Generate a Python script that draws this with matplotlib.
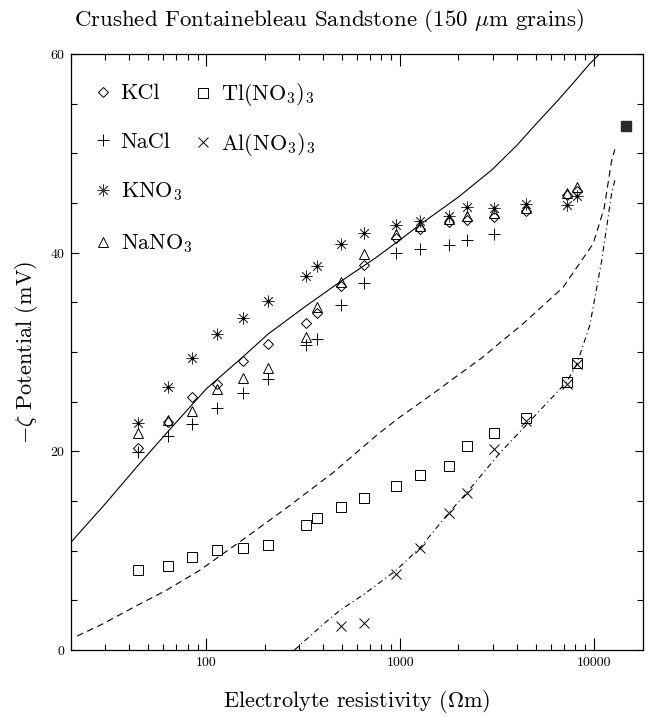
import matplotlib
matplotlib.use('Agg')
import matplotlib.pyplot as plt
import matplotlib.ticker as mticker
from matplotlib.lines import Line2D

plt.rcParams['font.family'] = 'cmr10'
plt.rcParams['mathtext.fontset'] = 'cm'
plt.rcParams['axes.unicode_minus'] = False
plt.rcParams['axes.formatter.use_mathtext'] = True

# measured resistivities (Ohm m), shared by all electrolytes
res = [44.5, 63, 84, 113, 155, 208, 325, 370, 493, 648, 948, 1270,
       1780, 2210, 3040, 4450, 7250, 8170]

kcl = [20.3, 23.0, 25.5, 26.8, 29.1, 30.8, 32.9, 33.9, 36.6, 38.8, 41.5,
       42.4, 43.1, 43.3, 43.6, 44.2, 45.8, 46.2]
nacl = [19.9, 21.5, 22.7, 24.4, 25.9, 27.3, 30.7, 31.3, 34.7, 36.9, 40.0,
        40.4, 40.8, 41.3, 41.9]
kno3 = [22.8, 26.5, 29.4, 31.8, 33.4, 35.1, 37.6, 38.7, 40.9, 42.0, 42.8,
        43.2, 43.7, 44.6, 44.5, 44.9, 44.8, 45.7]
nano3 = [21.8, 23.2, 24.1, 26.3, 27.4, 28.4, 31.5, 34.5, 37.0, 39.9, 41.9,
         42.7, 43.4, 43.7, 44.0, 44.5, 46.0, 46.6]
tl = [8.1, 8.5, 9.4, 10.1, 10.3, 10.6, 12.6, 13.3, 14.4, 15.3, 16.5, 17.6,
      18.5, 20.5, 21.8, 23.4, 27.0, 28.9]
al_res = [493, 648, 948, 1270, 1780, 2210, 3040, 4450, 7250, 8170]
al = [2.4, 2.7, 7.6, 10.3, 13.8, 15.8, 20.2, 23.1, 26.8, 28.8]

# distilled-water point
dw_res = [14600]
dw_val = [52.7]

# theory curves
solid_r = [20, 30, 44, 64, 100, 150, 208, 325, 493, 750, 1000, 1260, 2000,
           3000, 4000, 5000, 6500, 8000, 9500, 10700]
solid_v = [10.85, 14.7, 18.5, 22.1, 26.3, 29.3, 31.8, 34.6, 37.1, 39.5, 41.3,
           42.8, 45.6, 48.4, 50.8, 52.9, 55.3, 57.3, 59.0, 60.0]
dash_r = [21.5, 29, 45, 62, 92, 154, 259, 447, 765, 990, 1500, 2000, 2640,
          3400, 4230, 6930, 9910, 11300, 12330, 12830]
dash_v = [1.4, 2.6, 4.6, 6.0, 8.0, 11.1, 14.3, 17.8, 21.7, 23.4, 25.9, 27.7,
          29.4, 31.2, 32.7, 36.5, 40.9, 44.5, 49.2, 50.4]
dd_r = [285, 407, 490, 650, 950, 1270, 1780, 2200, 3260, 4450, 7250, 8170,
        9530, 10970, 12330, 12900]
dd_v = [0.0, 2.7, 4.0, 5.6, 8.0, 10.3, 13.8, 15.8, 19.8, 22.6, 27.0, 28.8,
        32.7, 39.2, 45.9, 47.5]

fig = plt.figure(figsize=(6.54, 7.17), dpi=100)
ax = fig.add_axes([0.1086, 0.0935, 0.8744, 0.8312])

lw = 0.8
ax.plot(solid_r, solid_v, '-', color='black', lw=lw)
ax.plot(dash_r, dash_v, color='black', lw=lw, dashes=(6, 4))
ax.plot(dd_r, dd_v, color='black', lw=lw, dashes=(5, 3, 1, 3))

mk = dict(linestyle='none', mfc='none', mec='black', mew=0.7)
star = dict(linestyle='none', mfc='none', mec='#333333', mew=0.6)
ax.plot(res, kcl, marker='D', ms=5.2, **mk)
ax.plot(res[:len(nacl)], nacl, marker='+', ms=8, **mk)
ax.plot(res, kno3, marker=(8, 2, 0), ms=8.5, **star)
ax.plot(res, kno3, linestyle='none', marker='o', ms=1.6, color='black')
ax.plot(res, nano3, marker='^', ms=7.5, **mk)
ax.plot(res, tl, marker='s', ms=7.3, **mk)
ax.plot(al_res, al, marker='x', ms=7.5, **mk)
ax.plot(dw_res, dw_val, linestyle='none', marker='s', ms=6.8, color='#2a2a2a')

ax.set_xscale('log')
ax.set_xlim(20, 17900)
ax.set_ylim(0, 60)
ax.xaxis.set_major_locator(mticker.FixedLocator([100, 1000, 10000]))
ax.xaxis.set_major_formatter(mticker.FixedFormatter(['100', '1000', '10000']))
ax.xaxis.set_minor_locator(mticker.LogLocator(base=10, subs=range(2, 10)))
ax.xaxis.set_minor_formatter(mticker.NullFormatter())
ax.yaxis.set_major_locator(mticker.MultipleLocator(20))
ax.yaxis.set_minor_locator(mticker.MultipleLocator(5))
ax.tick_params(which='both', direction='in', top=True, right=True,
               labelsize=10, width=0.8)
ax.tick_params(axis='x', which='major', length=8.5, pad=5)
ax.tick_params(axis='x', which='minor', length=4.3)
ax.tick_params(axis='y', which='major', length=6, pad=4)
ax.tick_params(axis='y', which='minor', length=4.5)
for s in ax.spines.values():
    s.set_linewidth(0.9)

ax.set_xlabel(r'Electrolyte resistivity ($\Omega$m)', fontsize=16, labelpad=14)
ax.set_ylabel(r'$-\zeta$ Potential (mV)', fontsize=16, labelpad=7)
fig.text(0.503, 0.971, r'Crushed Fontainebleau Sandstone (150 $\mu$m grains)',
         ha='center', va='center', fontsize=16.5)

leg_kw = dict(loc='upper left', frameon=False, fontsize=16,
              handlelength=0.8, handletextpad=0.4,
              borderpad=0, borderaxespad=0)
h1 = [
    Line2D([], [], marker='D', ms=5.2, **mk),
    Line2D([], [], marker='+', ms=8, **mk),
    Line2D([], [], marker=(8, 2, 0), ms=8.5, **star),
    Line2D([], [], marker='^', ms=7.5, **mk),
]
leg1 = ax.legend(h1, ['KCl', 'NaCl', r'KNO$_3$', r'NaNO$_3$'],
                 bbox_to_anchor=(0.04, 0.95), labelspacing=1.3, **leg_kw)
ax.add_artist(leg1)
h2 = [
    Line2D([], [], marker='s', ms=7.3, **mk),
    Line2D([], [], marker='x', ms=7.5, **mk),
]
ax.legend(h2, [r'Tl(NO$_3$)$_3$', r'Al(NO$_3$)$_3$'],
          bbox_to_anchor=(0.215, 0.954), labelspacing=1.02, **leg_kw)

fig.savefig('out.png', dpi=100)
